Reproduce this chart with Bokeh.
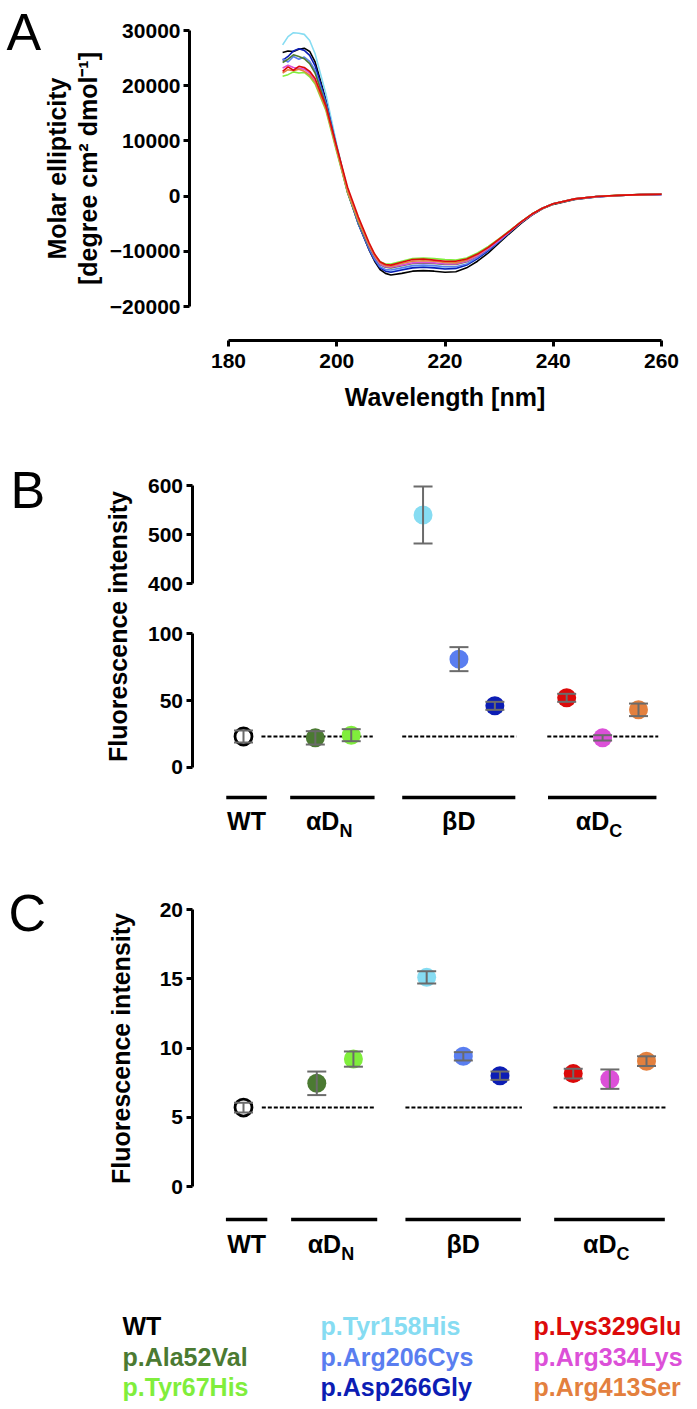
import numpy as np
from bokeh.plotting import figure
from bokeh.layouts import column
from bokeh.models import Range1d, LinearAxis, FixedTicker, Label
from bokeh.embed import file_html
from bokeh.resources import INLINE
from bokeh.core.properties import value

FONT = "Liberation Sans"

# ---------------- data : panel A (CD spectra) ----------------
wavelength = [190, 191, 192, 193, 194, 195, 196, 198, 200, 202, 204, 206, 207, 208, 209, 210,
              212, 214, 216, 218, 220, 222, 224, 226, 228, 230, 232, 234, 236, 238, 240, 244,
              248, 252, 256, 260]
cd_wt = [26000, 26300, 26200, 26600, 26800, 26200, 24300, 17500, 9000, 1000, -5000, -9800, -11800,
         -13300, -14000, -14300, -14000, -13600, -13500, -13600, -13800, -13700, -13000, -11800,
         -10300, -8500, -6700, -5000, -3500, -2300, -1500, -600, -150, 100, 250, 300]
cd_tyr158his = [27400, 28900, 29600, 29500, 29300, 28200, 25800, 18500, 9300, 1000, -5000, -9600,
                -11500, -12900, -13500, -13700, -13300, -12900, -12800, -12900, -13100, -13100,
                -12500, -11300, -9900, -8200, -6500, -4800, -3400, -2200, -1400, -550, -100, 120,
                260, 320]
cd_asp266gly = [24600, 25300, 26300, 26700, 26400, 25500, 23600, 17200, 8800, 800, -5100, -9700,
                -11600, -13000, -13600, -13800, -13400, -13000, -12900, -13000, -13200, -13100,
                -12500, -11300, -9900, -8200, -6500, -4800, -3400, -2200, -1400, -550, -100, 120,
                260, 320]
cd_arg206cys = [24900, 24300, 25300, 24800, 25200, 24400, 22800, 16800, 8600, 700, -5000, -9500,
                -11400, -12800, -13300, -13400, -13000, -12600, -12500, -12600, -12800, -12800,
                -12300, -11100, -9700, -8100, -6400, -4700, -3300, -2200, -1400, -500, -100, 120,
                250, 300]
cd_ala52val = [24200, 24800, 25600, 25300, 24900, 24000, 22300, 16500, 8400, 600, -4800, -9200,
               -11000, -12400, -12900, -13000, -12600, -12200, -12100, -12200, -12400, -12400,
               -11900, -10800, -9500, -7900, -6300, -4700, -3300, -2200, -1400, -500, -80, 130,
               270, 330]
cd_tyr67his = [21700, 22000, 22500, 22300, 22400, 21600, 20300, 15500, 8000, 700, -4500, -8800,
               -10600, -11900, -12300, -12300, -11800, -11300, -11200, -11300, -11500, -11600,
               -11200, -10300, -9100, -7700, -6200, -4700, -3300, -2200, -1400, -500, -80, 130,
               270, 330]
cd_arg334lys = [23200, 23700, 23300, 23100, 23000, 22300, 20900, 16000, 8500, 1000, -4400, -9000,
                -10900, -12300, -12800, -12900, -12500, -12100, -12000, -12100, -12300, -12300,
                -11800, -10800, -9500, -8000, -6400, -4800, -3400, -2200, -1400, -500, -90, 120,
                260, 320]
cd_arg413ser = [22300, 22900, 22700, 23000, 22600, 21900, 20600, 15800, 8300, 900, -4400, -8900,
                -10800, -12100, -12600, -12700, -12200, -11800, -11700, -11800, -12000, -12100,
                -11600, -10600, -9300, -7800, -6300, -4700, -3300, -2200, -1400, -500, -80, 130,
                270, 330]
cd_lys329glu = [22600, 23400, 22800, 23500, 23300, 22600, 21300, 16300, 8900, 1600, -3800, -8500,
                -10500, -11900, -12400, -12500, -12000, -11500, -11400, -11600, -11800, -11800,
                -11400, -10500, -9300, -7800, -6300, -4700, -3300, -2200, -1400, -500, -80, 130,
                270, 330]

# ---------------- data : panels B and C ----------------
mutants = ["WT", "p.Ala52Val", "p.Tyr67His", "p.Tyr158His", "p.Arg206Cys",
           "p.Asp266Gly", "p.Lys329Glu", "p.Arg334Lys", "p.Arg413Ser"]
colors = ["#000000", "#4b7a32", "#80ee3c", "#86dcf2", "#5a7ef0",
          "#0c1db4", "#dc0a0a", "#dc50d8", "#e3803e"]
positions = [1, 3, 4, 6, 7, 8, 10, 11, 12]
b_mean = [23, 22, 24, 540, 81, 46, 52, 22, 43]
b_err = [4.5, 5, 4.5, 58, 9, 3, 3, 2, 4.7]
c_mean = [5.7, 7.45, 9.2, 15.1, 9.4, 8.0, 8.15, 7.75, 9.05]
c_err = [0.35, 0.85, 0.55, 0.45, 0.3, 0.3, 0.35, 0.7, 0.35]

group_names = ["WT", "αD", "βD", "αD"]
group_subs = ["", "N", "", "C"]
group_start = [0.52, 2.3, 5.42, 9.48]
group_end = [1.65, 4.65, 8.57, 12.5]
dash_start = [1.5, 5.42, 9.46]
dash_end = [4.6, 8.6, 12.55]
b_break = 300

cd_curves = [cd_wt, cd_tyr158his, cd_asp266gly, cd_arg206cys, cd_ala52val,
             cd_tyr67his, cd_arg334lys, cd_arg413ser, cd_lys329glu]
cd_colors = ["#000000", "#86dcf2", "#0c1db4", "#5a7ef0", "#4b7a32",
             "#80ee3c", "#dc50d8", "#e3803e", "#dc0a0a"]


# ---------------- layout helpers ----------------
# maps from reference-picture pixel positions to data values (layout calibration)
def make_map(px0, v0, px1, v1):
    k = (v1 - v0) / (px1 - px0)
    return lambda px: v0 + (px - px0) * k


PAGE_L, PAGE_R = 0, 697


def new_fig(top, bottom, xm, ym):
    p = figure(width=PAGE_R - PAGE_L, height=bottom - top,
               x_range=Range1d(xm(PAGE_L), xm(PAGE_R)), y_range=Range1d(ym(bottom), ym(top)),
               x_axis_type=None, y_axis_type=None, output_backend="svg",
               toolbar_location=None, min_border=0)
    p.outline_line_color = None
    p.background_fill_color = "white"
    p.border_fill_color = "white"
    return p


def style_axis(ax, ticks, standoff=3):
    ax.ticker = FixedTicker(ticks=ticks)
    ax.axis_line_width = 3
    ax.axis_line_color = "black"
    ax.major_tick_line_width = 3
    ax.major_tick_line_color = "black"
    ax.major_tick_out = 6
    ax.major_tick_in = 0
    ax.minor_tick_line_color = None
    ax.major_label_text_font = FONT
    ax.major_label_text_font_style = "bold"
    ax.major_label_text_font_size = "21px"
    ax.major_label_text_color = "black"
    ax.major_label_standoff = standoff


def letter(p, txt, x, y):
    p.add_layout(Label(x=x, y=y, text=txt, text_font=FONT, text_font_size="52px",
                       text_align="left", text_baseline="middle", text_color="black"))


def ylabel(p, txt, x, y, **kw):
    p.add_layout(Label(x=x, y=y, text=txt, angle=np.pi / 2, text_font=FONT,
                       text_font_style="bold", text_font_size="25px", text_align="center",
                       text_baseline="middle", text_color="black", **kw))


# ---------------- panel A ----------------
xA = make_map(228, 180, 661, 260)
yA = make_map(306, -20000, 30, 30000)
pa = new_fig(0, 420, xA, yA)
axx = LinearAxis(bounds=(180, 260), fixed_location=yA(340))
style_axis(axx, [180, 200, 220, 240, 260], standoff=7)
axy = LinearAxis(bounds=(-20000, 30000), fixed_location=xA(189))
style_axis(axy, [-20000, -10000, 0, 10000, 20000, 30000])
pa.add_layout(axx, "below")
pa.add_layout(axy, "left")
for ys, c in zip(cd_curves, cd_colors):
    pa.line(wavelength, ys, line_color=c, line_width=1.6)
letter(pa, "A", xA(6), yA(31))
ylabel(pa, "Molar ellipticity", xA(56), yA(168))
ylabel(pa, "[degree cm² dmol⁻¹]", xA(87), yA(168))
pa.add_layout(Label(x=xA(444.5), y=yA(396), text="Wavelength [nm]", text_font=FONT,
                    text_font_style="bold", text_font_size="25px", text_align="center",
                    text_baseline="middle", text_color="black"))


def draw_points(p, xs, means, errs, cols, range_name="default"):
    wt = [i for i in range(len(xs)) if cols[i] == "#000000"]
    mut = [i for i in range(len(xs)) if cols[i] != "#000000"]
    if mut:
        p.scatter([xs[i] for i in mut], [means[i] for i in mut], marker="circle", size=19,
                  fill_color=[cols[i] for i in mut], line_color=None, y_range_name=range_name)
    if wt:
        p.scatter([xs[i] for i in wt], [means[i] for i in wt], marker="circle", size=17,
                  fill_color="white", line_color="black", line_width=2.8,
                  y_range_name=range_name)
    lo = [m - e for m, e in zip(means, errs)]
    hi = [m + e for m, e in zip(means, errs)]
    p.segment(x0=xs, y0=lo, x1=xs, y1=hi, line_color="#6b6b6b", line_width=2,
              y_range_name=range_name)
    p.scatter(xs + xs, lo + hi, marker="dash", size=19, line_color="#6b6b6b", line_width=2,
              y_range_name=range_name)


def draw_groups(p, bar_y, lab_y):
    p.segment(x0=group_start, y0=[bar_y] * 4, x1=group_end, y1=[bar_y] * 4,
              line_color="black", line_width=3.5)
    centers = [(a + b) / 2 for a, b in zip(group_start, group_end)]
    plain = [i for i in range(4) if not group_subs[i]]
    subbed = [i for i in range(4) if group_subs[i]]
    p.text(x=[centers[i] for i in plain], y=[lab_y] * len(plain),
           text=[group_names[i] for i in plain], text_font=value(FONT),
           text_font_style="bold", text_font_size="25px", text_align="center",
           text_baseline="middle", text_color="black")
    p.text(x=[centers[i] for i in subbed], y=[lab_y] * len(subbed),
           text=[group_names[i] for i in subbed], text_font=value(FONT),
           text_font_style="bold", text_font_size="25px", text_align="right",
           text_baseline="middle", text_color="black", x_offset=7)
    p.text(x=[centers[i] for i in subbed], y=[lab_y] * len(subbed),
           text=[group_subs[i] for i in subbed], text_font=value(FONT),
           text_font_style="bold", text_font_size="18px", text_align="left",
           text_baseline="middle", text_color="black", x_offset=7, y_offset=10)


# ---------------- panel B ----------------
xB = make_map(243, 1, 638, 12)
yB = make_map(766.7, 0, 633.3, 100)
yBu = make_map(583.3, 400, 485, 600)
pb = new_fig(420, 860, xB, yB)
pb.extra_y_ranges = {"upper": Range1d(yBu(860), yBu(420))}
ax_low = LinearAxis(bounds=(0, 100), fixed_location=xB(191.5))
style_axis(ax_low, [0, 50, 100])
ax_up = LinearAxis(y_range_name="upper", bounds=(400, 600), fixed_location=xB(191.5))
style_axis(ax_up, [400, 500, 600])
pb.add_layout(ax_low, "left")
pb.add_layout(ax_up, "left")

wt_b = b_mean[0]
pb.segment(x0=dash_start, y0=[wt_b] * 3, x1=dash_end, y1=[wt_b] * 3, line_color="black",
           line_width=2, line_dash="4 2")
low = [i for i in range(len(b_mean)) if b_mean[i] < b_break]
up = [i for i in range(len(b_mean)) if b_mean[i] >= b_break]
draw_points(pb, [positions[i] for i in low], [b_mean[i] for i in low],
            [b_err[i] for i in low], [colors[i] for i in low])
draw_points(pb, [positions[i] for i in up], [b_mean[i] for i in up],
            [b_err[i] for i in up], [colors[i] for i in up], "upper")
draw_groups(pb, yB(797), yB(820))
letter(pb, "B", xB(10), yB(489))
ylabel(pb, "Fluorescence intensity", xB(117), yB(626))

# ---------------- panel C ----------------
xC = make_map(243, 1, 646, 12)
yC = make_map(1186, 0, 909, 20)
pc = new_fig(860, 1290, xC, yC)
ax_c = LinearAxis(bounds=(0, 20), fixed_location=xC(191.5))
style_axis(ax_c, [0, 5, 10, 15, 20])
pc.add_layout(ax_c, "left")
wt_c = c_mean[0]
pc.segment(x0=dash_start, y0=[wt_c] * 3, x1=dash_end, y1=[wt_c] * 3, line_color="black",
           line_width=2, line_dash="4 2")
draw_points(pc, positions, c_mean, c_err, colors)
draw_groups(pc, yC(1219), yC(1243))
letter(pc, "C", xC(8), yC(912))
ylabel(pc, "Fluorescence intensity", xC(120), yC(1048))

# ---------------- legend ----------------
ident = make_map(0, 0, 1, 1)
pl = new_fig(1290, 1409, ident, ident)
col_x = [122, 320, 533]
row_y = [1325, 1356, 1386]
pl.text(x=[col_x[i // 3] for i in range(len(mutants))],
        y=[row_y[i % 3] for i in range(len(mutants))],
        text=mutants, text_color=colors, text_font=value(FONT), text_font_style="bold",
        text_font_size="25px", text_align="left", text_baseline="middle")

layout = column(pa, pb, pc, pl, spacing=0)
open("out.html", "w").write(file_html(layout, INLINE))
